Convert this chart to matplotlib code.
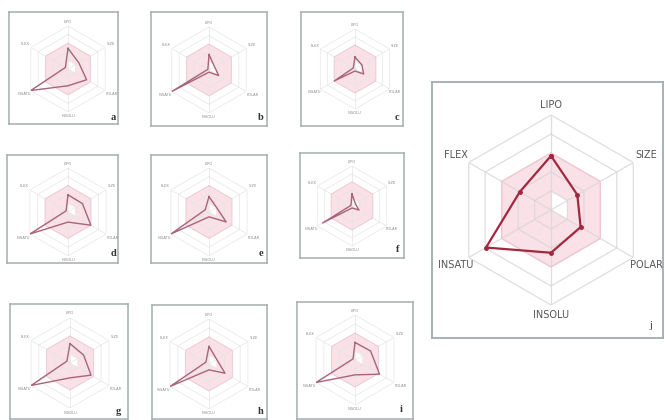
import numpy as np
import matplotlib.pyplot as plt

W, H = 665, 420

props = ['LIPO', 'SIZE', 'POLAR', 'INSOLU', 'INSATU', 'FLEX']
letters = ['a', 'b', 'c', 'd', 'e', 'f', 'g', 'h', 'i', 'j']

# radar values (0..1 of the outer ring), order as in props
vals_a = [0.48, 0.29, 0.50, 0.39, 1.00, 0.07]
vals_b = [0.36, 0.15, 0.26, 0.05, 1.00, 0.03]
vals_c = [0.30, 0.20, 0.25, 0.05, 0.60, 0.05]
vals_d = [0.39, 0.38, 0.60, 0.23, 1.00, 0.05]
vals_e = [0.35, 0.20, 0.45, 0.11, 1.00, 0.10]
vals_f = [0.30, 0.10, 0.20, 0.05, 0.85, 0.03]
vals_g = [0.43, 0.35, 0.54, 0.33, 1.00, 0.08]
vals_h = [0.39, 0.20, 0.41, 0.13, 1.00, 0.08]
vals_i = [0.39, 0.40, 0.63, 0.33, 1.00, 0.05]
vals_j = [0.57, 0.32, 0.36, 0.45, 0.79, 0.38]
all_vals = [vals_a, vals_b, vals_c, vals_d, vals_e, vals_f, vals_g, vals_h, vals_i, vals_j]

rings = [0.2, 0.4, 0.6, 0.8, 1.0]
pink_outer = [0.6, 0.6, 0.6, 0.6, 0.6, 0.6]
pink_inner = [0.2, 0.2, 0.2, 0.0, 0.0, 0.0]

# layout in pixels: box (x0, y0, x1, y1), centre (cx, cy), radius, letter pos
boxes = [(9, 12, 118, 124), (151, 12, 267, 126), (301, 12, 403, 126),
         (7, 155, 118, 263), (151, 155, 267, 263), (300, 153, 404, 258),
         (10, 304, 128, 419), (152, 305, 267, 419), (297, 302, 413, 419),
         (432, 82, 663, 338)]
centres = [(68, 69), (209, 70), (355, 69),
           (68, 212), (209, 212), (352, 206),
           (70, 363), (209, 364), (355, 360),
           (551, 210)]
radii = [43, 43, 40, 44, 44, 40, 45, 45, 45, 95]
letter_pos = [(113, 117), (261, 118), (397, 118),
              (113, 254), (261, 254), (398, 249),
              (118, 411), (261, 411), (401, 410),
              (651, 326)]

theta = np.deg2rad(np.arange(6) * 60.0)
theta_c = np.append(theta, theta[0])


def closed(v):
    return np.append(v, v[0])


fig = plt.figure(figsize=(W / 100, H / 100), dpi=100)
fig.patch.set_facecolor('white')

for k in range(10):
    big = (k == 9)
    x0, y0, x1, y1 = boxes[k]
    fr = fig.add_axes([x0 / W, 1 - y1 / H, (x1 - x0) / W, (y1 - y0) / H])
    fr.set_xticks([])
    fr.set_yticks([])
    for s in fr.spines.values():
        s.set_color('#a3adad')
        s.set_linewidth(1.3 if big else 1.1)

    cx, cy = centres[k]
    R = radii[k]
    ax = fig.add_axes([(cx - R) / W, 1 - (cy + R) / H, 2 * R / W, 2 * R / H],
                      projection='polar')
    ax.set_theta_zero_location('N')
    ax.set_theta_direction(-1)
    ax.set_ylim(0, 1)
    ax.set_xticks([])
    ax.set_yticks([])
    ax.grid(False)
    ax.spines['polar'].set_visible(False)
    ax.patch.set_alpha(0)

    # optimal (pink) zone
    ax.fill(theta_c, closed(pink_outer), color='#fae1e8', lw=0, zorder=1)
    ax.fill(theta_c, closed(pink_inner), color='white', lw=0, zorder=1.5)

    gcol = '#d6d6d6' if big else '#e4e4e4'
    for r in rings:
        ax.plot(theta_c, [r] * 7, color=gcol, lw=0.9 if big else 0.6,
                alpha=0.8, zorder=2)
    for t in theta:
        ax.plot([t, t], [0, 1], color=gcol, lw=0.9 if big else 0.6,
                alpha=0.8, zorder=2)
    ax.plot(theta_c, closed(pink_outer), color='#f2c6d2',
            lw=0.9 if big else 0.6, zorder=2.2)

    v = closed(all_vals[k])
    if big:
        ax.plot(theta_c, v, color='#a2283f', lw=1.6, marker='o', ms=2.5, zorder=3)
    else:
        ax.plot(theta_c, v, color='#a8647a', lw=1.0, zorder=3)

    for t, name in zip(theta, props):
        if name in ('LIPO', 'INSOLU'):
            rr = 1.1
        else:
            rr = 1.16
        ax.text(t, rr, name, ha='center', va='center', clip_on=False,
                fontsize=7 if big else 2.6, color='#555555' if big else '#8a8a8a')

    lx, ly = letter_pos[k]
    fig.text(lx / W, 1 - ly / H, letters[k], ha='center', va='center',
             fontsize=8 if big else 7.5, family='Liberation Serif',
             fontweight='normal' if big else 'bold', color='#333333')

fig.savefig('out.png', dpi=100)
